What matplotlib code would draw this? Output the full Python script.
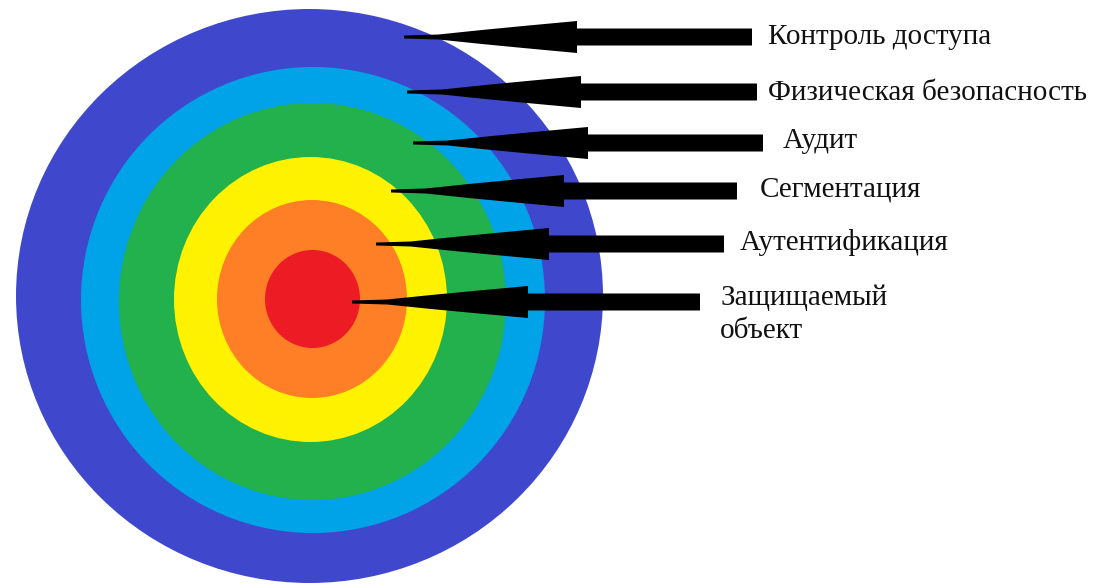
import matplotlib.pyplot as plt
from matplotlib.patches import Ellipse, Polygon

# --- data: rings from outside to inside (pixel coords of the picture) ---
ring_names = ['Контроль доступа', 'Физическая безопасность', 'Аудит',
              'Сегментация', 'Аутентификация', 'Защищаемый\nобъект']
ring_cx = [309.5, 313, 312.5, 310.5, 312, 312.5]
ring_cy = [296, 300, 301.5, 299.5, 299, 299]
ring_w = [587, 464, 387, 273, 190, 95]
ring_h = [574, 466, 397, 285, 198, 98]
ring_colors = ['#3F48CC', '#00A2E8', '#22B14C', '#FFF200', '#FF7F27', '#ED1C24']

# arrows: tip x, tip y, back of head x, end of bar x
arrow_tip_x = [404, 407, 413, 391, 376, 352]
arrow_y = [37, 92, 143, 191, 244, 302]
arrow_head_x = [577, 581, 588, 564, 549, 528]
arrow_end_x = [752, 757, 763, 737, 724, 700]
label_x = [768, 768, 783, 760, 740, 720]
label_y = [37, 93, 141, 190, 243, 314]

fig = plt.figure(figsize=(10.95, 5.86), dpi=100)
ax = fig.add_axes([0, 0, 1, 1])
ax.set_xlim(0, 1095)
ax.set_ylim(586, 0)
ax.axis('off')

for cx, cy, w, h, c in zip(ring_cx, ring_cy, ring_w, ring_h, ring_colors):
    ax.add_patch(Ellipse((cx, cy), w, h, facecolor=c, edgecolor='none'))


def arrow_shape(x0, y, xh, xe):
    # thin lead at the tip, a wedge that widens to the back, then a thick bar
    L = xh - x0
    prof = [(0.0, 1.5), (0.2, 2.5), (0.45, 7), (0.72, 11.5), (1.0, 16)]
    top = [(x0 + f * L, y - h) for f, h in prof]
    bot = [(x0 + f * L, y + h) for f, h in prof]
    top += [(xh, y - 8.5), (xe, y - 8.5)]
    bot += [(xh, y + 8.5), (xe, y + 8.5)]
    return top + bot[::-1]


for x0, y, xh, xe in zip(arrow_tip_x, arrow_y, arrow_head_x, arrow_end_x):
    ax.add_patch(Polygon(arrow_shape(x0, y, xh, xe), closed=True,
                         facecolor='black', edgecolor='none'))

for name, tx, ty in zip(ring_names, label_x, label_y):
    ax.text(tx, ty, name, family='Liberation Serif', fontsize=21,
            ha='left', va='center', color='#111111', linespacing=1.35)

fig.savefig('out.png', dpi=100, facecolor='white')
